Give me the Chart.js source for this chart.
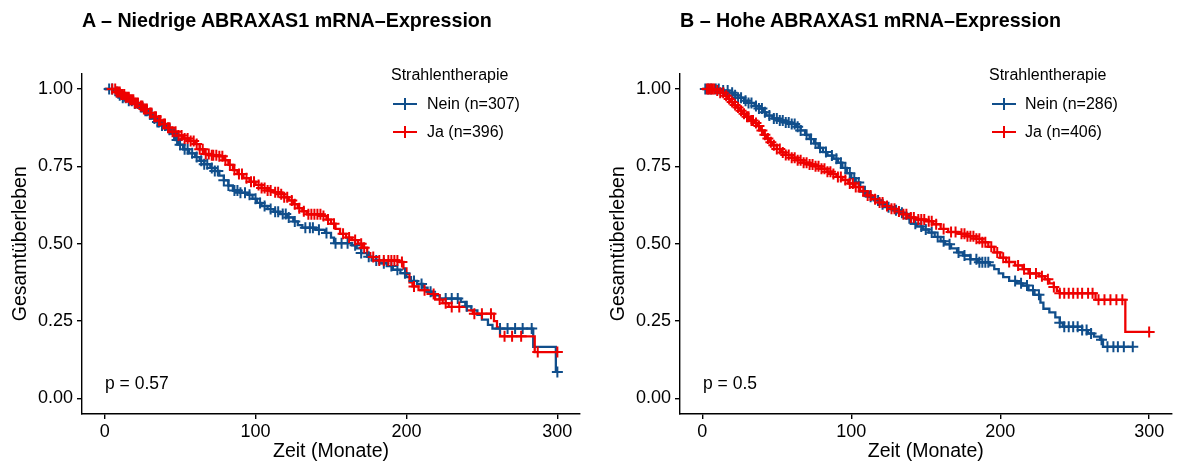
<!DOCTYPE html>
<html><head><meta charset="utf-8">
<script src="https://cdn.jsdelivr.net/npm/chart.js@4.4.1/dist/chart.umd.min.js"></script>
<style>
body{margin:0;width:1179px;height:463px;background:#fff;position:relative;overflow:hidden;font-family:"Liberation Sans",Arial,Helvetica,sans-serif;color:#000}
.panel{position:absolute;top:0;height:463px}
.title{position:absolute;top:8px;font-weight:bold;font-size:19.7px;line-height:24px;white-space:nowrap}
.legtitle{position:absolute;font-size:16px;line-height:20px;white-space:nowrap}
.legitem{position:absolute;font-size:16px;line-height:20px;white-space:nowrap}
.key{position:absolute;width:24px;height:12px}
.key .h{position:absolute;left:0;top:5px;width:24px;height:2.4px}
.key .v{position:absolute;left:11px;top:0;width:2.4px;height:12px}
.pval{position:absolute;font-size:17.5px;line-height:20px;white-space:nowrap}
</style></head>
<body>
<div class="panel" style="left:0;width:590px"><canvas id="cA" width="590" height="463"></canvas></div>
<div class="panel" style="left:590px;width:589px"><canvas id="cB" width="589" height="463"></canvas></div>

<div class="title" style="left:82px">A – Niedrige ABRAXAS1 mRNA–Expression</div>
<div class="title" style="left:680px">B – Hohe ABRAXAS1 mRNA–Expression</div>

<div class="legtitle" style="left:391px;top:65px">Strahlentherapie</div>
<div class="key" style="left:393px;top:98px"><div class="h" style="background:#104E8B"></div><div class="v" style="background:#104E8B"></div></div>
<div class="legitem" style="left:427px;top:94px">Nein (n=307)</div>
<div class="key" style="left:393px;top:126px"><div class="h" style="background:#EE0000"></div><div class="v" style="background:#EE0000"></div></div>
<div class="legitem" style="left:427px;top:122px">Ja (n=396)</div>

<div class="legtitle" style="left:989px;top:65px">Strahlentherapie</div>
<div class="key" style="left:992px;top:98px"><div class="h" style="background:#104E8B"></div><div class="v" style="background:#104E8B"></div></div>
<div class="legitem" style="left:1025px;top:94px">Nein (n=286)</div>
<div class="key" style="left:992px;top:126px"><div class="h" style="background:#EE0000"></div><div class="v" style="background:#EE0000"></div></div>
<div class="legitem" style="left:1025px;top:122px">Ja (n=406)</div>

<div class="pval" style="left:105px;top:373px">p = 0.57</div>
<div class="pval" style="left:703px;top:373px">p = 0.5</div>

<script>
// ---------- data ----------
const xTicks = [0, 100, 200, 300];
const yTicks = [0, 0.25, 0.5, 0.75, 1.0];

// Panel A, Nein
const aNeinT = [0,6,9,12,16,19,23,26,29,32,35,38,42,45,47,49,52,56,60,63,66,70,73,76,79,82,85,90,95,98,101,104,108,112,116,121,125,128,131,140,146,150,152,164,167,170,174,177,182,187,191,196,200,203,207,211,214,217,222,236,239,243,247,250,254,257,284,299,300];
const aNeinS = [1.000,0.990,0.980,0.972,0.962,0.953,0.942,0.930,0.918,0.905,0.893,0.882,0.868,0.855,0.835,0.820,0.805,0.792,0.780,0.768,0.757,0.745,0.735,0.720,0.705,0.688,0.672,0.665,0.658,0.645,0.632,0.622,0.612,0.603,0.596,0.585,0.572,0.560,0.552,0.545,0.535,0.520,0.502,0.495,0.485,0.470,0.458,0.446,0.437,0.428,0.416,0.405,0.392,0.380,0.370,0.358,0.345,0.333,0.323,0.312,0.298,0.285,0.270,0.255,0.238,0.226,0.167,0.086,0.086];
const aNeinC = [3,5,8,10,12,14,16,18,20,22,24,25,27,28,30,31,33,35,36,38,40,43,46,48,50,53,55,58,61,64,66,68,71,73,75,79,82,86,88,90,93,96,100,103,106,110,113,115,118,120,122,126,133,136,138,142,147,153,157,161,166,170,175,180,185,190,194,199,205,210,216,226,230,234,240,262,267,272,277,283,300];

// Panel A, Ja
const aJaT = [0,8,11,14,17,20,23,26,29,32,35,38,41,44,48,52,56,60,63,66,70,76,79,82,85,88,92,96,100,104,108,112,116,119,122,125,128,131,134,144,147,150,153,156,160,164,168,171,174,176,180,195,198,200,202,204,208,214,219,224,228,240,244,258,260,262,285,300];
const aJaS = [1.000,0.990,0.982,0.973,0.965,0.955,0.945,0.935,0.922,0.910,0.898,0.887,0.875,0.862,0.850,0.840,0.832,0.822,0.805,0.790,0.786,0.783,0.770,0.755,0.738,0.725,0.712,0.700,0.690,0.680,0.672,0.666,0.660,0.650,0.640,0.628,0.615,0.605,0.595,0.590,0.578,0.565,0.548,0.532,0.520,0.512,0.500,0.487,0.470,0.457,0.446,0.441,0.420,0.403,0.375,0.362,0.350,0.338,0.320,0.308,0.296,0.285,0.274,0.250,0.230,0.201,0.150,0.150];
const aJaC = [5,7,8,9,10,11,12,13,14,15,16,17,18,19,20,21,22,24,25,26,27,28,30,31,33,34,36,37,39,40,42,43,45,47,49,51,53,55,57,59,61,63,65,67,69,71,72,74,76,78,80,83,86,89,91,94,97,99,102,104,106,108,110,113,115,117,119,121,124,126,129,132,135,137,139,141,143,145,148,152,158,162,166,170,172,178,182,185,188,190,192,194,197,205,212,218,222,226,230,235,245,250,256,265,270,276,287,300];

// Panel B, Nein
const bNeinT = [0,14,18,21,24,28,31,35,38,41,43,47,51,56,60,63,66,69,72,75,78,81,84,88,91,94,97,100,103,106,109,112,116,120,124,128,133,137,140,144,148,152,156,160,163,167,171,175,180,185,193,196,199,202,206,211,215,219,223,227,229,233,237,240,242,255,259,263,267,269,289];
const bNeinS = [1.000,0.995,0.988,0.980,0.972,0.962,0.955,0.945,0.937,0.925,0.914,0.905,0.898,0.892,0.887,0.878,0.866,0.852,0.838,0.824,0.810,0.796,0.785,0.775,0.762,0.745,0.728,0.712,0.698,0.684,0.668,0.652,0.640,0.628,0.618,0.608,0.600,0.582,0.565,0.556,0.546,0.536,0.522,0.508,0.498,0.485,0.472,0.462,0.450,0.440,0.430,0.418,0.404,0.392,0.380,0.372,0.365,0.350,0.335,0.310,0.290,0.278,0.262,0.245,0.232,0.221,0.210,0.200,0.190,0.167,0.167];
const bNeinC = [2,4,6,9,11,14,17,20,22,24,26,29,31,33,36,38,40,42,45,48,50,52,54,56,58,60,62,64,66,70,73,76,79,83,87,90,93,96,99,102,105,109,113,118,121,125,130,134,139,143,147,150,154,158,162,166,172,176,180,184,186,188,190,192,210,214,218,222,226,240,243,246,249,252,255,258,261,268,272,276,279,283,289];

// Panel B, Ja
const bJaT = [0,9,12,15,17,19,21,23,25,27,29,32,35,37,39,41,43,45,47,50,53,56,60,64,68,72,76,80,84,87,90,94,98,102,106,110,114,118,122,126,130,134,138,143,150,155,160,165,172,178,184,188,192,196,200,204,210,215,219,226,230,233,236,238,240,264,284,300];
const bJaS = [1.000,0.995,0.988,0.978,0.968,0.958,0.948,0.940,0.930,0.920,0.910,0.898,0.890,0.880,0.866,0.852,0.840,0.828,0.818,0.806,0.795,0.787,0.778,0.770,0.762,0.756,0.750,0.742,0.733,0.725,0.716,0.706,0.695,0.683,0.670,0.656,0.644,0.633,0.622,0.613,0.604,0.595,0.585,0.578,0.573,0.563,0.548,0.538,0.532,0.524,0.516,0.505,0.490,0.472,0.455,0.441,0.430,0.418,0.404,0.395,0.385,0.372,0.360,0.348,0.340,0.319,0.215,0.215];
const bJaC = [3,4,5,6,7,8,10,12,14,16,18,20,22,24,26,28,30,31,33,34,36,38,40,42,44,46,48,50,52,54,56,58,60,62,64,66,68,70,72,74,76,78,80,82,84,86,88,91,93,96,99,101,103,105,108,111,113,116,119,121,124,127,129,132,135,137,140,142,145,147,149,152,154,157,162,167,170,174,176,178,180,182,184,186,188,190,194,198,202,206,212,216,220,224,228,232,236,240,243,246,249,252,255,259,262,266,270,274,278,282,300];

const BLUE = '#104E8B';
const RED = '#EE0000';
const FONT = '"Liberation Sans", Arial, Helvetica, sans-serif';

// ---------- helpers ----------
function stepPoints(T, S) { return T.map((t, i) => ({x: t, y: S[i]})); }
function survAt(T, S, t) { let s = 1; for (let i = 0; i < T.length; i++) { if (T[i] <= t) s = S[i]; } return s; }
function censorPoints(T, S, C) { return C.map(t => ({x: t, y: survAt(T, S, t)})); }

function lineDs(T, S, color, order) {
  return {data: stepPoints(T, S), showLine: true, stepped: true, borderColor: color, borderWidth: 2.3,
          pointRadius: 0, fill: false, order: order};
}
function censDs(T, S, C, color, order) {
  return {data: censorPoints(T, S, C), showLine: false, pointStyle: 'cross', pointRadius: 5.5,
          pointBorderWidth: 2, borderColor: color, pointBorderColor: color, backgroundColor: color, order: order};
}

function makeChart(id, padLeft, padRight, nein, ja) {
  const axisCommon = {
    grid: {display: true, drawOnChartArea: false, drawTicks: true, tickLength: 5, color: '#000', lineWidth: 1.4},
    border: {display: true, color: '#000', width: 1.4}
  };
  new Chart(document.getElementById(id), {
    type: 'scatter',
    data: {datasets: [
      lineDs(nein[0], nein[1], BLUE, 3),
      lineDs(ja[0], ja[1], RED, 2),
      censDs(nein[0], nein[1], nein[2], BLUE, 1),
      censDs(ja[0], ja[1], ja[2], RED, 0)
    ]},
    options: {
      responsive: false, animation: false, devicePixelRatio: 1,
      layout: {padding: {left: padLeft, right: padRight, top: 73.5, bottom: 0}},
      plugins: {legend: {display: false}, tooltip: {enabled: false}, title: {display: false}},
      scales: {
        x: Object.assign({}, axisCommon, {
          type: 'linear', min: -15, max: 315,
          afterBuildTicks: s => { s.ticks = xTicks.map(v => ({value: v})); },
          afterFit: s => { s.height = 49; },
          ticks: {font: {family: FONT, size: 18}, color: '#000', padding: 2, maxRotation: 0,
                  callback: v => String(v)},
          title: {display: true, text: 'Zeit (Monate)', font: {family: FONT, size: 19.5}, color: '#000', padding: {top: 0, bottom: 0}}
        }),
        y: Object.assign({}, axisCommon, {
          type: 'linear', min: -0.05, max: 1.05,
          afterBuildTicks: s => { s.ticks = yTicks.map(v => ({value: v})); },
          afterFit: s => { s.width = 82; },
          ticks: {font: {family: FONT, size: 18}, color: '#000', padding: 4,
                  callback: v => Number(v).toFixed(2)},
          title: {display: true, text: 'Gesamtüberleben', font: {family: FONT, size: 19.5}, color: '#000', padding: {top: 9, bottom: 0}}
        })
      }
    }
  });
}

makeChart('cA', 0, 10, [aNeinT, aNeinS, aNeinC], [aJaT, aJaS, aJaC]);
makeChart('cB', 8, 1, [bNeinT, bNeinS, bNeinC], [bJaT, bJaS, bJaC]);
</script>
</body></html>
